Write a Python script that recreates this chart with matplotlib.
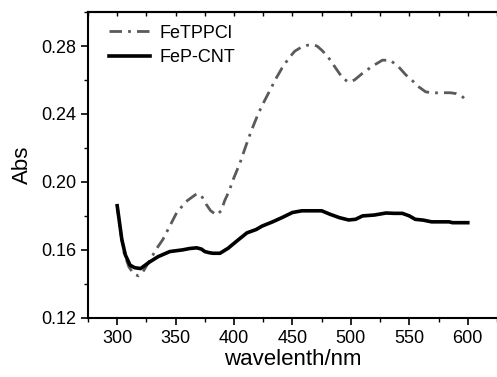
import matplotlib
matplotlib.use("Agg")
import matplotlib.pyplot as plt
from matplotlib.ticker import MultipleLocator, FormatStrFormatter

plt.rcParams['font.family'] = ['Liberation Sans', 'DejaVu Sans']

# FeTPPCl (grey dash-dot)
wl_tpp = [300, 303, 306, 310, 314, 318, 322, 328, 334, 339, 345, 351, 356, 360, 364, 368, 372,
          376, 380, 385, 389, 392, 396, 399, 405, 410, 415, 420, 424, 430, 436, 441, 447, 452,
          458, 463, 467, 471, 475, 480, 484, 489, 493, 498, 503, 510, 518, 527, 534, 541, 547,
          552, 558, 564, 570, 575, 580, 585, 590, 595, 600]
abs_tpp = [0.186, 0.170, 0.158, 0.150, 0.146, 0.1447, 0.147, 0.154, 0.161, 0.166, 0.174, 0.182,
           0.186, 0.189, 0.191, 0.193, 0.192, 0.187, 0.183, 0.1806, 0.183, 0.189, 0.195, 0.201,
           0.211, 0.221, 0.2305, 0.239, 0.245, 0.253, 0.261, 0.267, 0.273, 0.277, 0.2795, 0.2805,
           0.2808, 0.2800, 0.2776, 0.274, 0.270, 0.265, 0.261, 0.2588, 0.260, 0.264, 0.268,
           0.2717, 0.2715, 0.2676, 0.263, 0.260, 0.256, 0.253, 0.2525, 0.2524, 0.2525, 0.2525,
           0.252, 0.2505, 0.247]

# FeP-CNT (black solid)
wl_cnt = [300, 302, 304, 307, 311, 315, 320, 324, 328, 335, 345, 356, 362, 368, 372, 375, 379,
          382, 388, 395, 402, 411, 419, 424, 433, 441, 450, 458, 466, 475, 482, 490, 498, 504,
          510, 520, 530, 537, 544, 550, 555, 562, 569, 576, 584, 587, 593, 600]
abs_cnt = [0.186, 0.176, 0.166, 0.157, 0.151, 0.1495, 0.149, 0.151, 0.153, 0.156, 0.159, 0.160,
           0.1608, 0.1612, 0.1605, 0.159, 0.1583, 0.158, 0.158, 0.161, 0.165, 0.170, 0.172,
           0.174, 0.1765, 0.179, 0.182, 0.183, 0.183, 0.183, 0.181, 0.179, 0.1776, 0.178,
           0.180, 0.1805, 0.1817, 0.1815, 0.1815, 0.180, 0.178, 0.1775, 0.1765, 0.1765,
           0.1765, 0.176, 0.176, 0.176]

fig = plt.figure(figsize=(4.97, 3.77), dpi=100)
ax = fig.add_axes([0.177, 0.157, 0.823, 0.811])

ax.plot(wl_tpp, abs_tpp, color='#5a5a5a', lw=2.0,
        linestyle=(0, (4.5, 2.2, 1, 2.2)), label='FeTPPCl')
ax.plot(wl_cnt, abs_cnt, color='black', lw=2.6, label='FeP-CNT')

ax.set_xlim(275, 625)
ax.set_ylim(0.12, 0.30)
ax.xaxis.set_major_locator(MultipleLocator(50))
ax.xaxis.set_minor_locator(MultipleLocator(25))
ax.yaxis.set_major_locator(MultipleLocator(0.04))
ax.yaxis.set_minor_locator(MultipleLocator(0.02))
ax.yaxis.set_major_formatter(FormatStrFormatter('%.2f'))

ax.tick_params(which='major', direction='out', length=5, width=1.2, labelsize=13)
ax.tick_params(which='minor', direction='out', length=3, width=1.0)
ax.spines['right'].set_visible(False)
for s in ['left', 'bottom', 'top']:
    ax.spines[s].set_linewidth(1.5)

# inward ticks along the top edge
top = ax.secondary_xaxis('top')
top.xaxis.set_major_locator(MultipleLocator(25))
top.tick_params(direction='in', length=3, width=1.0, labeltop=False)
top.spines['top'].set_linewidth(1.5)

ax.set_xlabel('wavelenth/nm', fontsize=16, labelpad=2)
ax.set_ylabel('Abs', fontsize=16, labelpad=6)

ax.legend(loc='upper left', frameon=False, fontsize=13, handlelength=2.3,
          handletextpad=0.5, labelspacing=0.42, borderaxespad=0.3,
          bbox_to_anchor=(0.02, 1.0))

fig.savefig('out.png', dpi=100)
